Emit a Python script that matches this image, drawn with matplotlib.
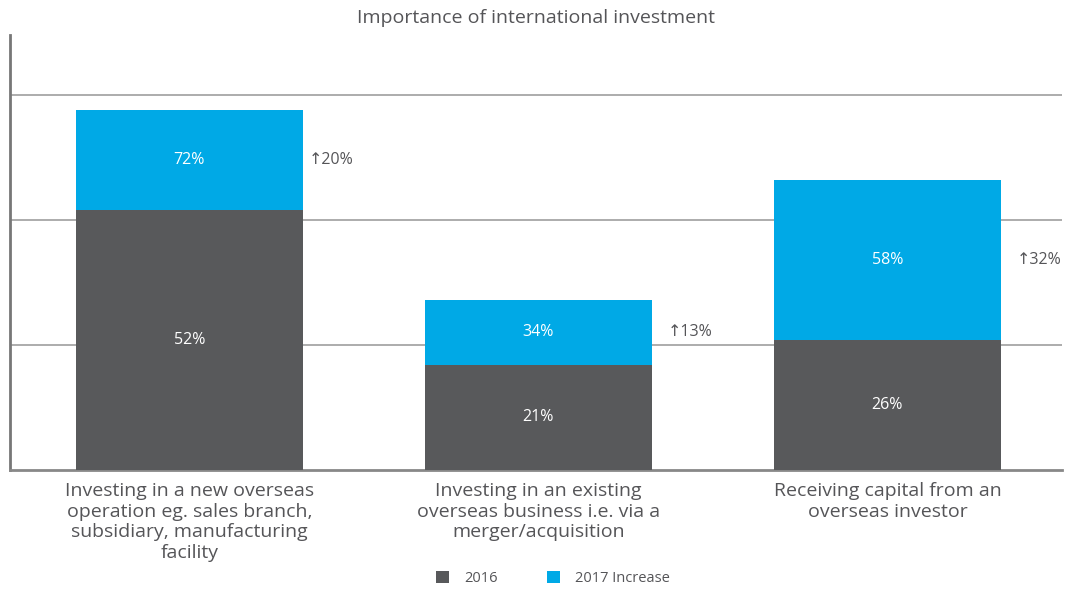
import matplotlib
matplotlib.use("Agg")
import matplotlib.pyplot as plt
import numpy as np

CATEGORIES = [
    "Investing in a new overseas\noperation eg. sales branch,\nsubsidiary, manufacturing\nfacility",
    "Investing in an existing\noverseas business i.e. via a\nmerger/acquisition",
    "Receiving capital from an\noverseas investor",
]
BASE_2016 = [52, 21, 26]
TOTAL_2017 = [72, 34, 58]
SERIES_NAMES = ["2016", "2017 Increase"]
GRID_LEVELS = [25, 50, 75]

DARK = "#58595b"
BLUE = "#00a9e6"
TEXT = "#555558"

plt.rcParams["font.family"] = ["Open Sans", "DejaVu Sans"]

fig = plt.figure(figsize=(10.65, 5.9), dpi=100)
ax = fig.add_axes([0.0094, 0.2034, 0.9877, 0.7373])

x = np.arange(len(CATEGORIES))
base = np.array(BASE_2016)
increase = np.array(TOTAL_2017) - base
width = 0.65

ax.set_yticks(GRID_LEVELS)
ax.yaxis.grid(True, color="#a6a6a6", linewidth=1.3)
ax.set_axisbelow(True)

ax.bar(x, base, width, color=DARK, label=SERIES_NAMES[0], zorder=3)
ax.bar(x, increase, width, bottom=base, color=BLUE, label=SERIES_NAMES[1], zorder=3)

# base value in the dark block, 2017 total in the blue block, the change beside it
side_pad = [0.017, 0.045, 0.045]
for i in range(len(x)):
    ax.text(x[i], base[i] / 2, f"{base[i]}%", ha="center", va="center",
            color="white", fontsize=11.5)
    mid = base[i] + increase[i] / 2
    ax.text(x[i], mid, f"{TOTAL_2017[i]}%", ha="center", va="center",
            color="white", fontsize=11.5)
    ax.text(x[i] + width / 2 + side_pad[i], mid, f"\u2191{increase[i]}%",
            ha="left", va="center", color=TEXT, fontsize=11.5)

ax.set_xlim(-0.514, 2.5)
ax.set_ylim(0, 87)
ax.set_xticks(x)
ax.set_xticklabels(CATEGORIES, fontsize=14, color=TEXT, linespacing=1.17)
ax.tick_params(axis="x", length=0, pad=9)
ax.tick_params(axis="y", length=0, labelleft=False)

for side in ["top", "right"]:
    ax.spines[side].set_visible(False)
ax.spines["left"].set_color("#777777")
ax.spines["left"].set_linewidth(2)
ax.spines["bottom"].set_color("#888888")
ax.spines["bottom"].set_linewidth(2)

fig.text(0.503, 0.969, "Importance of international investment", ha="center",
         va="center", fontsize=14, color=TEXT)

fig.legend(loc="center", bbox_to_anchor=(0.519, 0.02), ncol=2, frameon=False,
           fontsize=10.5, labelcolor=TEXT, handlelength=0.9, handleheight=0.9,
           columnspacing=3.4, handletextpad=1.0)

fig.savefig("out.png", dpi=100)
